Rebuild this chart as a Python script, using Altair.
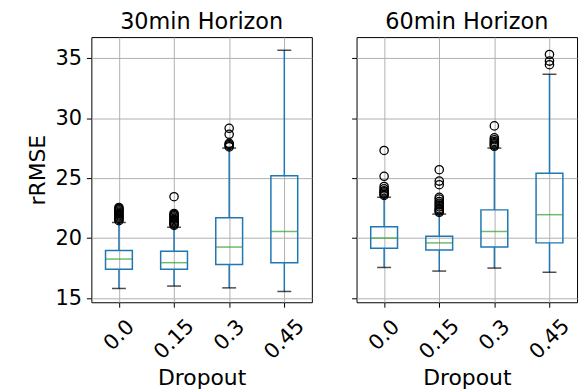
import altair as alt
import pandas as pd

horizons = ["30min Horizon", "60min Horizon"]
dropouts = ["0.0", "0.15", "0.3", "0.45"]

# 30min horizon box statistics
lo_30 = [15.8, 16.0, 15.85, 15.55]
q1_30 = [17.4, 17.4, 17.8, 17.95]
med_30 = [18.25, 17.95, 19.25, 20.55]
q3_30 = [18.97, 18.9, 21.7, 25.2]
hi_30 = [21.3, 20.9, 27.5, 35.65]
fliers_30 = [
    [21.45, 21.55, 21.65, 21.75, 21.85, 21.95, 22.05, 22.15, 22.25, 22.35, 22.45, 22.55],
    [21.05, 21.15, 21.25, 21.35, 21.45, 21.55, 21.65, 21.75, 21.85, 21.95, 22.05, 23.45],
    [27.6, 27.7, 27.8, 27.9, 28.65, 29.15],
    [],
]

# 60min horizon box statistics
lo_60 = [17.55, 17.25, 17.5, 17.15]
q1_60 = [19.15, 19.0, 19.25, 19.6]
med_60 = [20.0, 19.6, 20.55, 21.95]
q3_60 = [20.95, 20.15, 22.35, 25.4]
hi_60 = [23.4, 22.0, 27.5, 33.65]
fliers_60 = [
    [23.55, 23.65, 23.75, 23.85, 23.95, 24.1, 24.3, 25.15, 27.3],
    [22.15, 22.25, 22.35, 22.45, 22.6, 22.75, 22.9, 23.05, 23.25, 23.4, 24.45, 24.75, 25.7],
    [27.65, 27.75, 27.85, 27.95, 28.05, 28.2, 28.35, 29.35],
    [34.45, 34.75, 35.3],
]

stats_rows = []
flier_rows = []
for h, lo, q1, med, q3, hi, fl in [
    (horizons[0], lo_30, q1_30, med_30, q3_30, hi_30, fliers_30),
    (horizons[1], lo_60, q1_60, med_60, q3_60, hi_60, fliers_60),
]:
    for i, d in enumerate(dropouts):
        stats_rows.append(dict(horizon=h, dropout=d, lo=lo[i], q1=q1[i], med=med[i], q3=q3[i], hi=hi[i]))
        for v in fl[i]:
            flier_rows.append(dict(horizon=h, dropout=d, value=v))
stats = pd.DataFrame(stats_rows)
fliers = pd.DataFrame(flier_rows)

FONT = "DejaVu Sans"
BLUE = "#1f77b4"
GREEN = "#2ca02c"


def panel(h, first):
    s = stats[stats.horizon == h]
    f = fliers[fliers.horizon == h]
    x = alt.X(
        "dropout:N",
        sort=dropouts,
        scale=alt.Scale(type="point", domain=dropouts, padding=0.5),
        axis=alt.Axis(
            title="Dropout",
            labelAngle=-45,
            labelAlign="center",
            labelBaseline="middle",
            labelPadding={"expr": "length(datum.label) > 3 ? 32 : 28"},
            labelFontSize=21,
            titleFontSize=22,
            titlePadding=5,
            grid=True,
        ),
    )
    yaxis = alt.Axis(
        title="rRMSE" if first else None,
        labels=first,
        values=[15, 20, 25, 30, 35],
        labelFontSize=21,
        labelPadding=5,
        titleFontSize=22,
        titlePadding=5,
        grid=True,
    )
    yscale = alt.Scale(domain=[14.65, 36.75], nice=False, zero=False)

    def Y(field):
        return alt.Y(field + ":Q", scale=yscale, axis=yaxis)

    base = alt.Chart(s)
    lower_whisker = base.mark_rule(color=BLUE, strokeWidth=1.5).encode(x=x, y=Y("lo"), y2="q1:Q")
    upper_whisker = base.mark_rule(color=BLUE, strokeWidth=1.5).encode(x=x, y=Y("q3"), y2="hi:Q")
    box = base.mark_bar(size=27, fill="white", fillOpacity=0, stroke=BLUE, strokeWidth=1.5).encode(
        x=x, y=Y("q1"), y2="q3:Q"
    )
    median = base.mark_tick(color=GREEN, size=27, thickness=1.5).encode(x=x, y=Y("med"))
    cap_lo = base.mark_tick(color="black", size=14, thickness=1.5).encode(x=x, y=Y("lo"))
    cap_hi = base.mark_tick(color="black", size=14, thickness=1.5).encode(x=x, y=Y("hi"))
    pts = alt.Chart(f).mark_point(shape="circle", filled=False, color="black", size=70, strokeWidth=1.3, opacity=1).encode(
        x=x, y=Y("value")
    )
    return alt.layer(lower_whisker, upper_whisker, box, median, cap_lo, cap_hi, pts).properties(
        width=222,
        height=267,
        title=alt.TitleParams(h, fontSize=22.5, fontWeight="normal", font=FONT, offset=4, color="black"),
    )


chart = (
    alt.hconcat(panel(horizons[0], True), panel(horizons[1], False), spacing=38)
    .properties(padding={"left": 26, "top": 9, "right": 5, "bottom": 0})
    .configure_view(stroke="black", strokeWidth=1)
    .configure_axis(
        domain=False,
        gridColor="#b0b0b0",
        gridWidth=1,
        tickColor="black",
        tickSize=5,
        tickWidth=1,
        labelColor="black",
        titleColor="black",
        labelFont=FONT,
        titleFont=FONT,
        titleFontWeight="normal",
    )
    .configure_title(font=FONT)
)

chart.save("out.html", embed_options={"renderer": "svg", "actions": False})
